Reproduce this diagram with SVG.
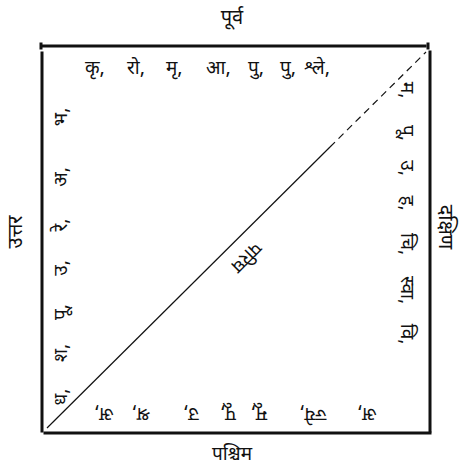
<svg xmlns="http://www.w3.org/2000/svg" width="464" height="470" viewBox="0 0 464 470">
<style>
text{font-family:"Noto Sans Devanagari","Noto Serif Devanagari","Lohit Devanagari","Noto Sans","DejaVu Sans",sans-serif;fill:#111;}
.lbl{font-size:20px;text-anchor:middle;}
.nk{font-size:19px;}
.nc{font-size:19px;text-anchor:middle;}
.border{stroke:#111;stroke-width:3;fill:none;stroke-linecap:square;}
.diag{stroke:#111;stroke-width:1.2;fill:none;}
</style>
<rect width="464" height="470" fill="#fff"/>
<g id="frame">
<line class="border" x1="43" y1="46" x2="425" y2="46"/>
<line class="border" x1="42" y1="53" x2="42" y2="431"/>
<line class="border" x1="430" y1="52" x2="430" y2="431"/>
<line class="border" x1="45" y1="433" x2="430" y2="433"/>
<line class="border" x1="41" y1="44" x2="41" y2="48"/>
<line class="border" x1="428" y1="44" x2="428" y2="48"/>
</g>
<g id="connectors">
<line class="diag" x1="47" y1="428" x2="330" y2="147"/>
<line class="diag" x1="330" y1="147" x2="426" y2="52" stroke-dasharray="7 5"/>
</g>
<g id="labels">
<text class="lbl" x="232" y="24">पूर्व</text>
<text class="lbl" x="232" y="460" style="font-size:19px">पश्चिम</text>
<text class="lbl" transform="translate(22,232) rotate(-90)">उत्तर</text>
<text class="lbl" transform="translate(439,227) rotate(90)">दक्षिण</text>
<text class="lbl" transform="translate(242,253) rotate(135)" style="font-size:19px">परिघ</text>
</g>
<g id="east">
<text class="nk" x="85" y="74">कृ,</text>
<text class="nk" x="127" y="74">रो,</text>
<text class="nk" x="166" y="74">मृ,</text>
<text class="nk" x="206" y="74">आ,</text>
<text class="nk" x="248" y="74">पु,</text>
<text class="nk" x="280" y="74">पु,</text>
<text class="nk" x="304" y="74">श्ले,</text>
</g>
<g id="south">
<text class="nc" transform="translate(401,90) rotate(90)">म,</text>
<text class="nc" transform="translate(401,133) rotate(90)">पू,</text>
<text class="nc" transform="translate(401,168) rotate(90)">उ,</text>
<text class="nc" transform="translate(401,203) rotate(90)">ह,</text>
<text class="nc" transform="translate(401,244) rotate(90)">चि,</text>
<text class="nc" transform="translate(401,290) rotate(90)">स्वा,</text>
<text class="nc" transform="translate(401,334) rotate(90)">वि,</text>
</g>
<g id="west">
<text class="nc" transform="translate(104,408) rotate(180)">अ,</text>
<text class="nc" transform="translate(141,408) rotate(180)">श्र,</text>
<text class="nc" transform="translate(191,408) rotate(180)">उ,</text>
<text class="nc" transform="translate(228,408) rotate(180)">पू,</text>
<text class="nc" transform="translate(259,408) rotate(180)">मू,</text>
<text class="nc" transform="translate(313,408) rotate(180)">ज्ये,</text>
<text class="nc" transform="translate(367,408) rotate(180)">अ,</text>
</g>
<g id="north">
<text class="nc" transform="translate(67,397) rotate(-90)">ध,</text>
<text class="nc" transform="translate(67,353) rotate(-90)">श,</text>
<text class="nc" transform="translate(67,312) rotate(-90)">पू,</text>
<text class="nc" transform="translate(67,268) rotate(-90)">उ,</text>
<text class="nc" transform="translate(67,225) rotate(-90)">रे,</text>
<text class="nc" transform="translate(67,177) rotate(-90)">अ,</text>
<text class="nc" transform="translate(67,117) rotate(-90)">भ,</text>
</g>
</svg>
